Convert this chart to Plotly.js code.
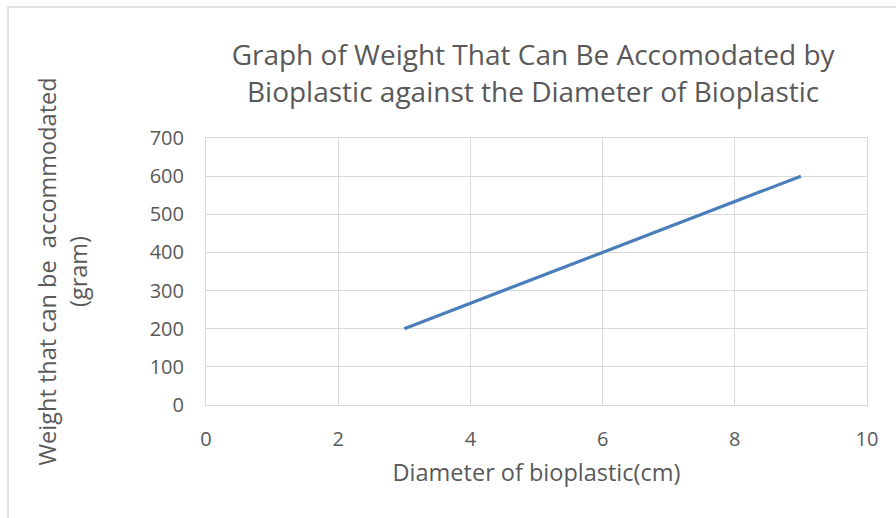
<!DOCTYPE html>
<html>
<head>
<meta charset="utf-8">
<script src="https://cdn.plot.ly/plotly-3.0.1.min.js"></script>
<style>html,body{margin:0;padding:0;background:#fff;}#chart{width:896px;height:518px;}</style>
</head>
<body>
<div id="chart"></div>
<script>
const diameter = [3, 6, 9];
const weight = [200, 400, 600];
const xTicks = [0, 2, 4, 6, 8, 10];
const yTicks = [0, 100, 200, 300, 400, 500, 600, 700];

const font = "'Open Sans', 'Noto Sans', sans-serif";
const txt = '#595959';

const trace = {
  x: diameter, y: weight, type: 'scatter', mode: 'lines',
  line: {color: '#4a7ebb', width: 3.2}, hoverinfo: 'skip'
};

const layout = {
  width: 896, height: 518,
  margin: {l: 206, r: 29, t: 138, b: 113},
  paper_bgcolor: '#ffffff', plot_bgcolor: '#ffffff',
  font: {family: font, color: txt},
  showlegend: false,
  title: {
    text: 'Graph of Weight That Can Be Accomodated by<br>Bioplastic against the Diameter of Bioplastic',
    font: {size: 28, color: txt, family: font},
    x: 0.595, xanchor: 'center', y: 0.874, yanchor: 'middle'
  },
  xaxis: {
    range: [0, 10], tickvals: xTicks, ticktext: xTicks.map(String),
    showgrid: true, gridcolor: '#d9d9d9', gridwidth: 1,
    showline: true, linecolor: '#d9d9d9', linewidth: 1, mirror: true,
    zeroline: false, ticks: '', tickfont: {size: 20, color: txt, family: font},
    ticklabelstandoff: 16,
    title: {text: 'Diameter of bioplastic(cm)', font: {size: 23.5, color: txt, family: font}, standoff: 13}
  },
  yaxis: {
    range: [0, 700], tickvals: yTicks, ticktext: yTicks.map(String),
    showgrid: true, gridcolor: '#d9d9d9', gridwidth: 1,
    showline: true, linecolor: '#d9d9d9', linewidth: 1, mirror: true,
    zeroline: false, ticks: '', tickfont: {size: 20, color: txt, family: font},
    ticklabelstandoff: 17,
    title: {text: 'Weight that can be\u00a0\u00a0accommodated<br>(gram)', font: {size: 23.5, color: txt, family: font}, standoff: 55}
  },
  shapes: [{
    type: 'rect', xref: 'paper', yref: 'paper',
    x0: -0.2995, x1: 2, y0: -1, y1: 1.4906,
    line: {color: '#d9d9d9', width: 1.5}, fillcolor: 'rgba(0,0,0,0)', layer: 'below'
  }]
};

Plotly.newPlot('chart', [trace], layout, {displayModeBar: false, staticPlot: true});
</script>
</body>
</html>
